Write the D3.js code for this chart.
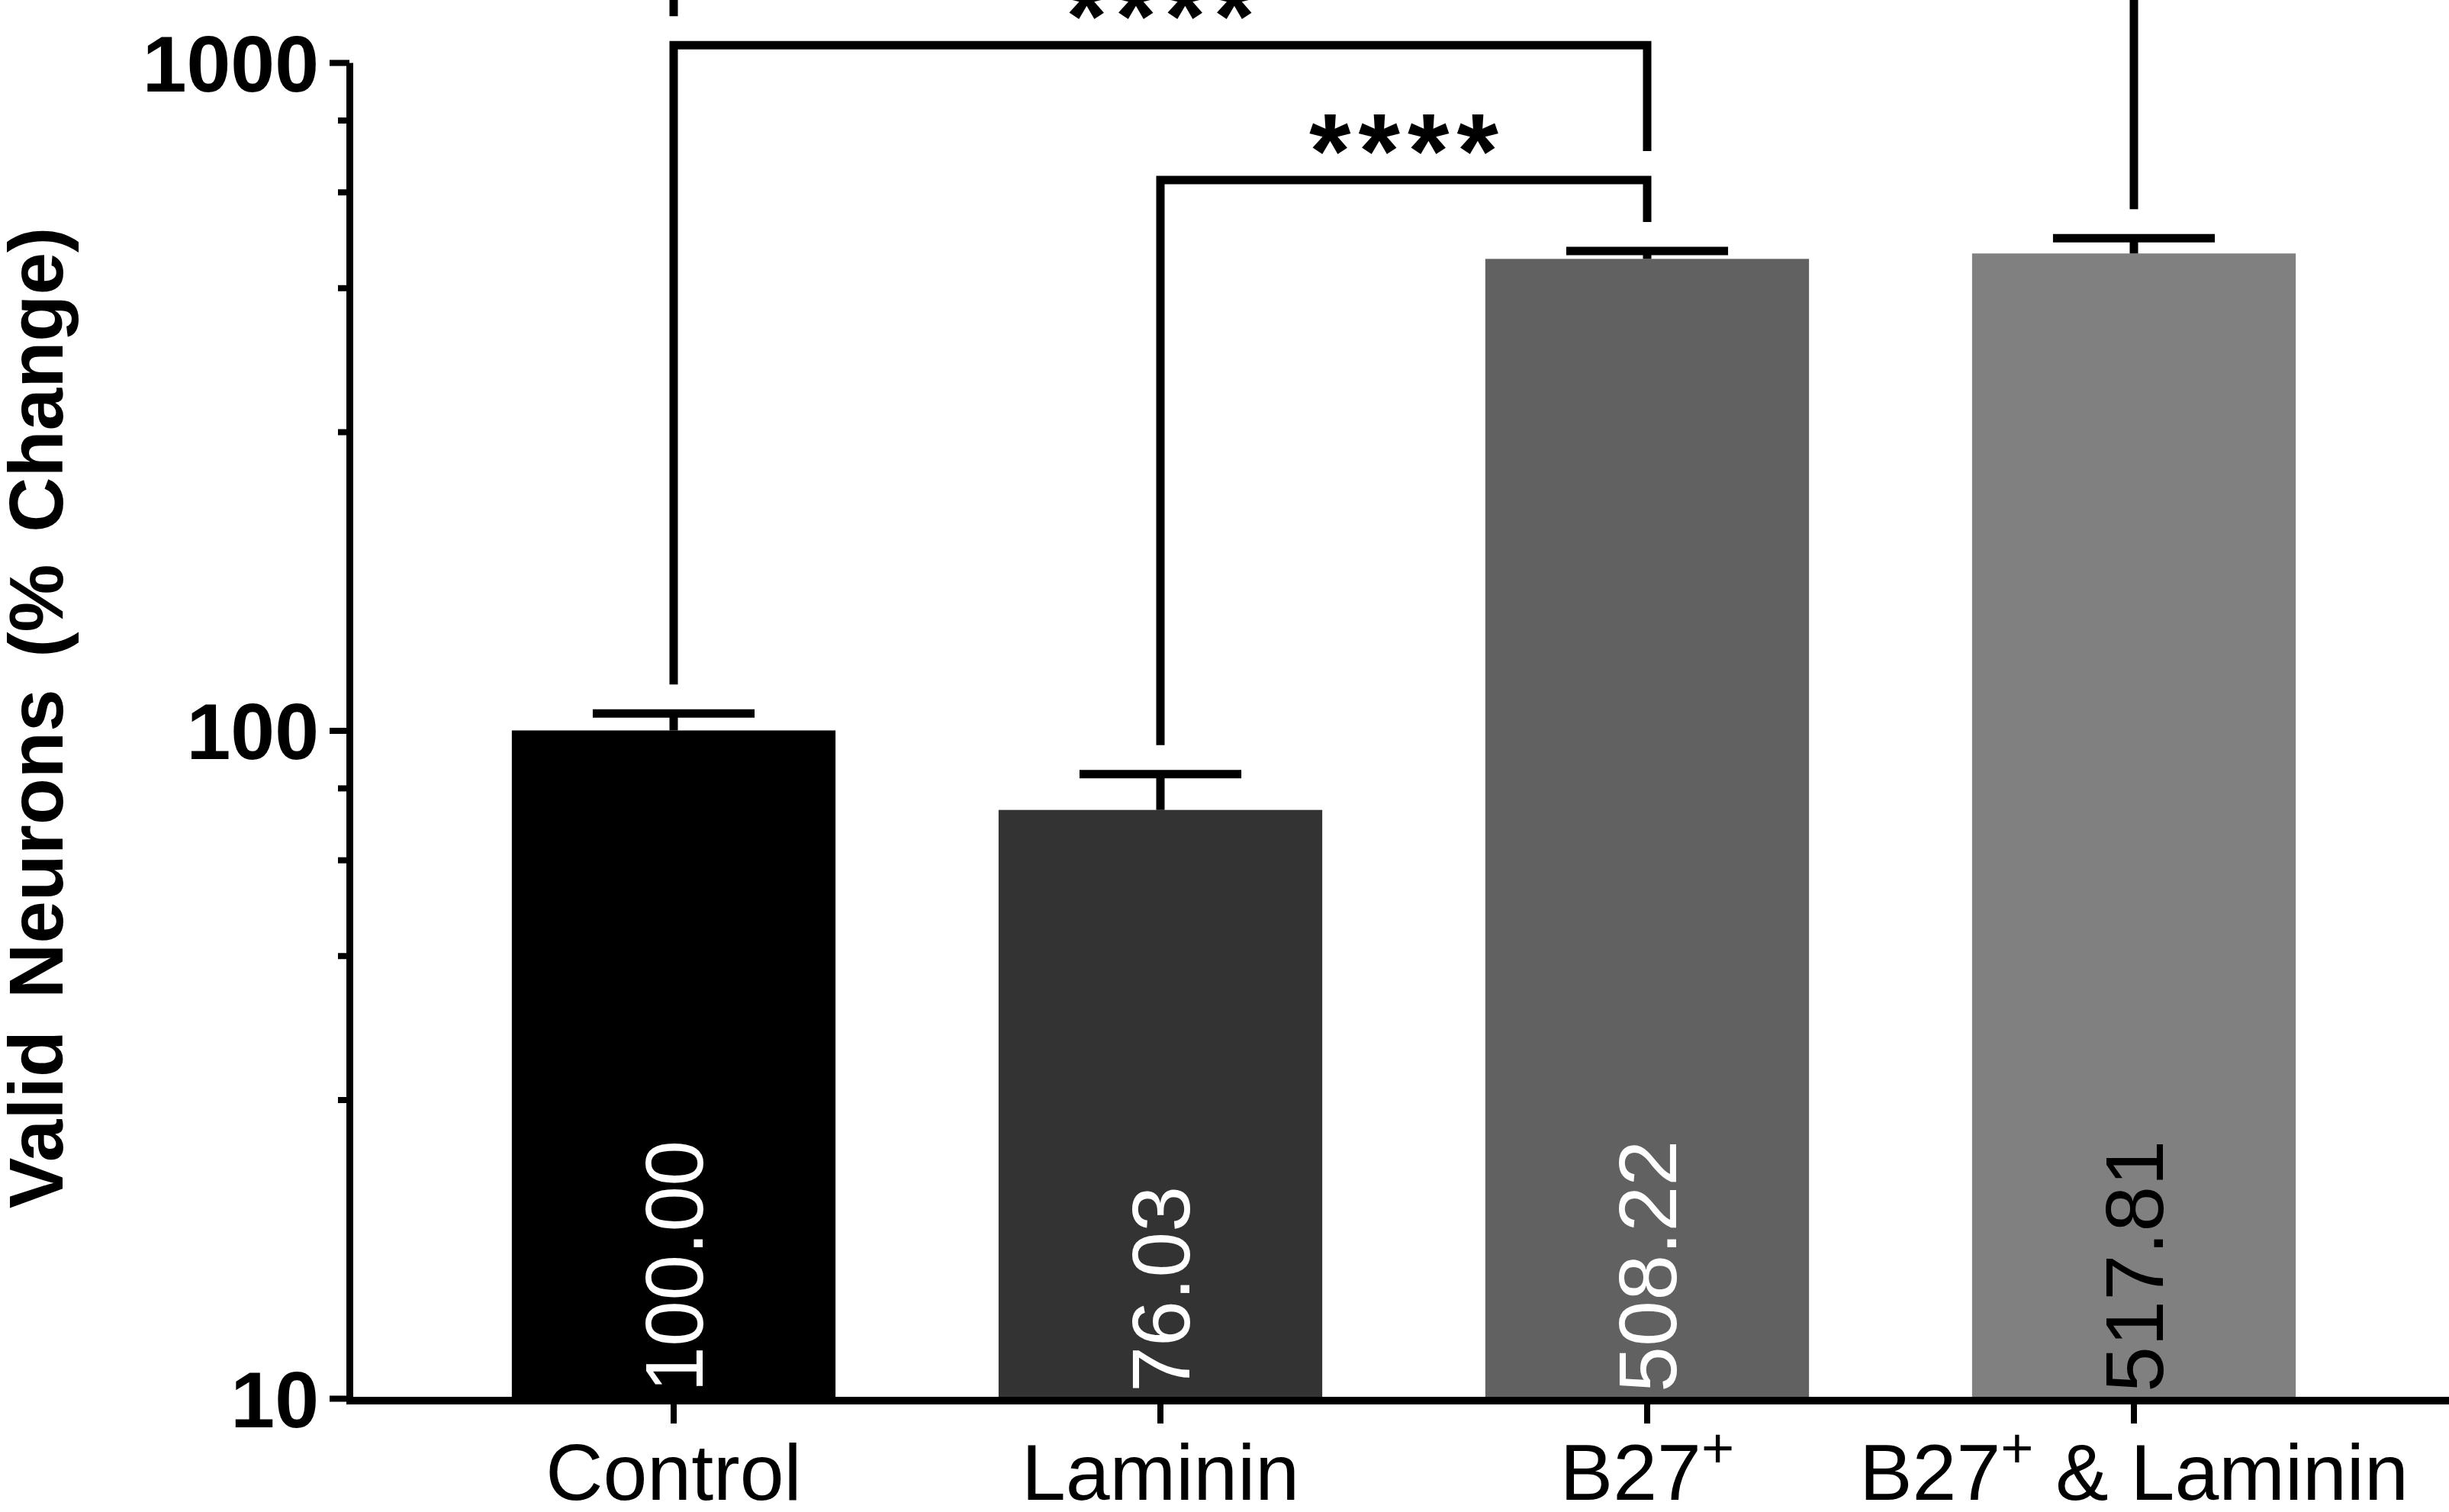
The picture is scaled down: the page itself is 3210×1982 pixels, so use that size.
<!DOCTYPE html>
<html>
<head>
  <meta charset="utf-8">
  <script src="https://d3js.org/d3.v7.min.js"></script>
  <style>
    body { margin: 0; background: #fff; }
    svg { display: block; font-family: "Liberation Sans", Arial, sans-serif; }
  </style>
</head>
<body>
<script>
  // values
  var groups = ["Control", "Laminin", "B27+", "B27+ & Laminin"];
  var means = [100.00, 76.03, 508.22, 517.81];
  var errors = [6, 10, 14, 28];
  var yMajor = [10, 100, 1000];
  var yMinor = [28, 46, 64, 82, 280, 460, 640, 820];
  // significance brackets (level is in y units)
  var compFrom = [1, 0, 0];
  var compTo = [2, 2, 3];
  var compLevel = [667, 1062, 1600];
  var compLabel = ["****", "****", "****"];

  var barFill = ["#000000", "#333333", "#616161", "#808080"];
  var valueFill = ["#ffffff", "#ffffff", "#ffffff", "#000000"];

  var width = 3210, height = 1982;
  var left = 458, bottom = 1833;

  var svg = d3.select("body").append("svg")
    .attr("width", width)
    .attr("height", height);

  var x = d3.scaleBand()
    .domain(groups)
    .range([564, 3116])
    .paddingInner(0.335)
    .paddingOuter(0.1675);

  var y = d3.scaleLog()
    .domain([10, 1000])
    .range([bottom, 82]);

  var color = d3.scaleOrdinal(groups, barFill);

  // bars
  svg.append("g").selectAll("rect")
    .data(groups)
    .join("rect")
    .attr("x", function(d) { return x(d); })
    .attr("width", x.bandwidth())
    .attr("y", function(d, i) { return y(means[i]); })
    .attr("height", function(d, i) { return y(10) - y(means[i]); })
    .attr("fill", function(d) { return color(d); });

  // error bars (upper only)
  var eb = svg.append("g").attr("stroke", "#000").attr("stroke-width", 11);
  eb.selectAll("line.stem")
    .data(groups)
    .join("line")
    .attr("class", "stem")
    .attr("x1", function(d) { return x(d) + x.bandwidth() / 2; })
    .attr("x2", function(d) { return x(d) + x.bandwidth() / 2; })
    .attr("y1", function(d, i) { return y(means[i]); })
    .attr("y2", function(d, i) { return y(means[i] + errors[i]); });
  eb.selectAll("line.cap")
    .data(groups)
    .join("line")
    .attr("class", "cap")
    .attr("x1", function(d) { return x(d) + x.bandwidth() * 0.25; })
    .attr("x2", function(d) { return x(d) + x.bandwidth() * 0.75; })
    .attr("y1", function(d, i) { return y(means[i] + errors[i]); })
    .attr("y2", function(d, i) { return y(means[i] + errors[i]); });

  // value labels inside bars
  svg.append("g").selectAll("text")
    .data(groups)
    .join("text")
    .attr("transform", function(d) {
      return "translate(" + (x(d) + x.bandwidth() / 2 + 38) + "," + (bottom - 8) + ") rotate(-90)";
    })
    .attr("font-size", 108)
    .attr("fill", function(d, i) { return valueFill[i]; })
    .text(function(d, i) { return d3.format(".2f")(means[i]); });

  // y axis
  var yAxis = svg.append("g")
    .attr("transform", "translate(" + left + ",0)")
    .call(d3.axisLeft(y).tickValues(yMajor).tickSize(26).tickSizeOuter(0).tickPadding(14)
      .tickFormat(d3.format("d")));
  yAxis.select(".domain").attr("stroke-width", 9);
  yAxis.selectAll(".tick line").attr("stroke-width", 8);
  yAxis.selectAll(".tick text")
    .attr("font-size", 104)
    .attr("font-weight", "bold")
    .attr("font-family", "Liberation Sans, Arial, sans-serif")
    .attr("fill", "#000")
    .attr("dy", "0.36em");

  var yMin = svg.append("g")
    .attr("transform", "translate(" + left + ",0)")
    .call(d3.axisLeft(y).tickValues(yMinor).tickSize(15).tickFormat(""));
  yMin.select(".domain").remove();
  yMin.selectAll(".tick line").attr("stroke-width", 8);

  // x axis
  var xAxis = svg.append("g")
    .attr("transform", "translate(0," + (bottom + 3) + ")")
    .call(d3.axisBottom(x).tickSize(30).tickPadding(0).tickFormat(""));
  xAxis.select(".domain").remove();
  xAxis.selectAll(".tick line").attr("stroke-width", 8);

  svg.append("line")
    .attr("x1", left - 4).attr("x2", width)
    .attr("y1", bottom + 3).attr("y2", bottom + 3)
    .attr("stroke", "#000").attr("stroke-width", 10);

  var xLabels = svg.append("g").selectAll("text")
    .data(groups)
    .join("text")
    .attr("x", function(d) { return x(d) + x.bandwidth() / 2; })
    .attr("y", 1966)
    .attr("text-anchor", "middle")
    .attr("font-size", 104)
    .attr("fill", "#000");
  xLabels.each(function(d) {
    var t = d3.select(this);
    var parts = d.split("+");
    parts.forEach(function(p, k) {
      if (k > 0) {
        t.append("tspan").attr("font-size", 74).attr("dy", -42).text("+");
        t.append("tspan").attr("dy", 42).text(p);
      } else {
        t.append("tspan").text(p);
      }
    });
  });

  // y axis title
  svg.append("text")
    .attr("transform", "translate(82," + 941 + ") rotate(-90)")
    .attr("text-anchor", "middle")
    .attr("font-size", 100)
    .attr("font-weight", "bold")
    .attr("word-spacing", 14)
    .text("Valid Neurons (% Change)");

  // significance brackets
  var gap = 38;
  var capTop = groups.map(function(d, i) { return y(means[i] + errors[i]); });
  var br = svg.append("g");
  compFrom.forEach(function(a, k) {
    var b = compTo[k];
    var ly = y(compLevel[k]);
    function legEnd(col) {
      var top = capTop[col];
      compFrom.forEach(function(a2, j) {
        if (compLevel[j] < compLevel[k] && col >= a2 && col <= compTo[j]) {
          top = Math.min(top, y(compLevel[j]));
        }
      });
      return top - gap;
    }
    var xa = x(groups[a]) + x.bandwidth() / 2;
    var xb = x(groups[b]) + x.bandwidth() / 2;
    br.append("path")
      .attr("d", "M" + xa + "," + legEnd(a) + "V" + ly + "H" + xb + "V" + legEnd(b))
      .attr("fill", "none")
      .attr("stroke", "#000")
      .attr("stroke-width", 11);
    br.append("text")
      .attr("x", (xa + xb) / 2 + 5)
      .attr("y", ly + 10)
      .attr("text-anchor", "middle")
      .attr("font-size", 140)
      .attr("font-weight", "bold")
      .attr("letter-spacing", 10)
      .text(compLabel[k]);
  });
</script>
</body>
</html>
